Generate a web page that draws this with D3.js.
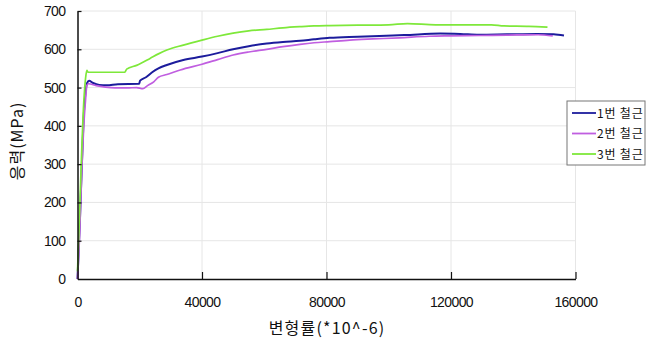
<!DOCTYPE html>
<html>
<head>
<meta charset="utf-8">
<script src="https://cdn.jsdelivr.net/npm/d3@7"></script>
<style>
  html, body { margin: 0; padding: 0; background: #fff; }
  svg { display: block; }
  text { font-family: "Liberation Sans", Arial, sans-serif; fill: #111; }
  .kr { font-family: "Noto Sans CJK KR", "Liberation Sans", sans-serif; }
</style>
</head>
<body>
<svg id="chart" width="658" height="344"></svg>
<script>
// Stress-strain curves for three rebar specimens: [strain (×10^-6), stress (MPa)]
const seriesNames = ["1번 철근", "2번 철근", "3번 철근"];
const seriesColors = ["#1c1c9c", "#c05ee0", "#7ee83a"];

const bar1 = [
  [0, 0], [800, 160], [1500, 320], [2100, 440], [2600, 490], [3100, 512], [3700, 518],
  [5000, 512], [7000, 507], [9400, 506], [13000, 509], [19800, 510], [20100, 518],
  [22000, 527], [24000, 540], [26000, 550], [28700, 559], [34000, 572], [40000, 581],
  [45000, 590], [50000, 600], [55000, 608], [60800, 615], [66000, 619], [71500, 622],
  [76000, 626], [81000, 630], [90000, 633], [97000, 635], [105000, 637], [116500, 641],
  [123000, 640], [129000, 638], [138000, 639], [147600, 640], [153000, 639], [156300, 636]
];
const bar2 = [
  [0, 0], [700, 120], [1400, 290], [2000, 400], [2600, 470], [3000, 505], [3500, 510],
  [6000, 505], [9000, 501], [12000, 499], [16000, 499], [19000, 500], [21000, 497],
  [22500, 505], [24500, 515], [26000, 527], [28700, 534], [33000, 546], [40000, 561],
  [45000, 573], [50000, 585], [55000, 593], [60800, 600], [66000, 607], [71500, 613],
  [76000, 617], [81000, 620], [87500, 624], [95000, 627], [103500, 630], [113000, 634],
  [120000, 635], [129000, 636], [138000, 637], [148000, 638], [152700, 635]
];
const bar3 = [
  [0, 20], [500, 130], [1200, 300], [2000, 460], [2600, 525], [3000, 545], [3400, 540],
  [8000, 540], [15200, 540], [15800, 548], [19000, 558], [23300, 576], [26000, 588],
  [28700, 598], [34000, 611], [40000, 624], [45000, 634], [50000, 642], [55000, 648],
  [60800, 652], [66000, 656], [71500, 659], [76000, 661], [81000, 662], [90000, 663],
  [100000, 664], [106000, 667], [115000, 664], [125000, 664], [133000, 664],
  [137000, 661], [145000, 660], [151000, 658]
];
const seriesData = [bar1, bar2, bar3];

const xTicks = [0, 40000, 80000, 120000, 160000];
const yTicks = [0, 100, 200, 300, 400, 500, 600, 700];
const xTitle = "변형률(*10^-6)";
const yTitle = "응력(MPa)";

const svg = d3.select("#chart");
const plot = { left: 77.5, right: 575.5, top: 11, bottom: 279 };

const x = d3.scaleLinear().domain([0, 160000]).range([plot.left, plot.right]);
const y = d3.scaleLinear().domain([0, 700]).range([plot.bottom, plot.top]);

// gridlines
const grid = svg.append("g");
grid.selectAll("line.gy").data(yTicks.filter(d => d > 0)).join("line")
  .attr("x1", plot.left).attr("x2", plot.right)
  .attr("y1", d => y(d)).attr("y2", d => y(d))
  .attr("stroke", "#e6e6e6").attr("stroke-width", 1);
grid.selectAll("line.gx").data(xTicks.filter(d => d > 0)).join("line")
  .attr("x1", d => x(d)).attr("x2", d => x(d))
  .attr("y1", plot.top).attr("y2", plot.bottom)
  .attr("stroke", "#e6e6e6").attr("stroke-width", 1);

// curves
const line = d3.line().x(d => x(d[0])).y(d => y(d[1])).curve(d3.curveMonotoneX);
svg.append("g").selectAll("path").data(seriesData).join("path")
  .attr("d", line)
  .attr("fill", "none")
  .attr("stroke", (d, i) => seriesColors[i])
  .attr("stroke-width", (d, i) => i === 0 ? 2 : 1.7)
  .attr("stroke-linejoin", "round");

// axes (ticks point inward)
const xAxis = d3.axisBottom(x).tickValues(xTicks).tickSize(-7).tickSizeOuter(0)
  .tickFormat(d3.format("d")).tickPadding(18);
const gx = svg.append("g").attr("transform", `translate(0,${plot.bottom})`).call(xAxis);
gx.select(".domain").attr("stroke", "#111").attr("stroke-width", 1.5);
gx.selectAll(".tick line").attr("stroke", "#111").attr("stroke-width", 1.2)
  .filter(d => d === 0).remove();
gx.selectAll(".tick text").attr("font-size", 14).attr("fill", "#111")
  .attr("font-family", "Liberation Sans, Arial, sans-serif").attr("letter-spacing", -0.6);

const yAxis = d3.axisLeft(y).tickValues(yTicks).tickSize(-4).tickSizeOuter(0)
  .tickFormat(d3.format("d")).tickPadding(12);
const gy = svg.append("g").attr("transform", `translate(${plot.left},0)`).call(yAxis);
gy.select(".domain").attr("stroke", "#111").attr("stroke-width", 1.5);
gy.selectAll(".tick line").attr("stroke", "#111").attr("stroke-width", 1.2)
  .filter(d => d === 0).remove();
gy.selectAll(".tick text").attr("font-size", 14).attr("fill", "#111")
  .attr("font-family", "Liberation Sans, Arial, sans-serif").attr("letter-spacing", -0.6);

// axis titles
svg.append("text").attr("class", "kr")
  .attr("x", 327).attr("y", 334)
  .attr("text-anchor", "middle").attr("font-size", 16)
  .attr("letter-spacing", 1.2)
  .text(xTitle);
svg.append("text").attr("class", "kr")
  .attr("transform", "translate(23,141) rotate(-90)")
  .attr("text-anchor", "middle").attr("font-size", 16)
  .attr("letter-spacing", 1)
  .text(yTitle);

// legend
const lg = svg.append("g").attr("transform", "translate(567,101)");
lg.append("rect").attr("width", 78).attr("height", 64)
  .attr("fill", "#fff").attr("stroke", "#777").attr("stroke-width", 1);
const items = lg.selectAll("g.item").data(seriesNames).join("g")
  .attr("transform", (d, i) => `translate(0,${12 + i * 20.5})`);
items.append("line").attr("x1", 5).attr("x2", 29).attr("y1", 0).attr("y2", 0)
  .attr("stroke", (d, i) => seriesColors[i]).attr("stroke-width", 1.8);
items.append("text").attr("class", "kr")
  .attr("x", 30).attr("y", 4.5).attr("font-size", 12)
  .attr("letter-spacing", 0.8)
  .text(d => d);
</script>
</body>
</html>
